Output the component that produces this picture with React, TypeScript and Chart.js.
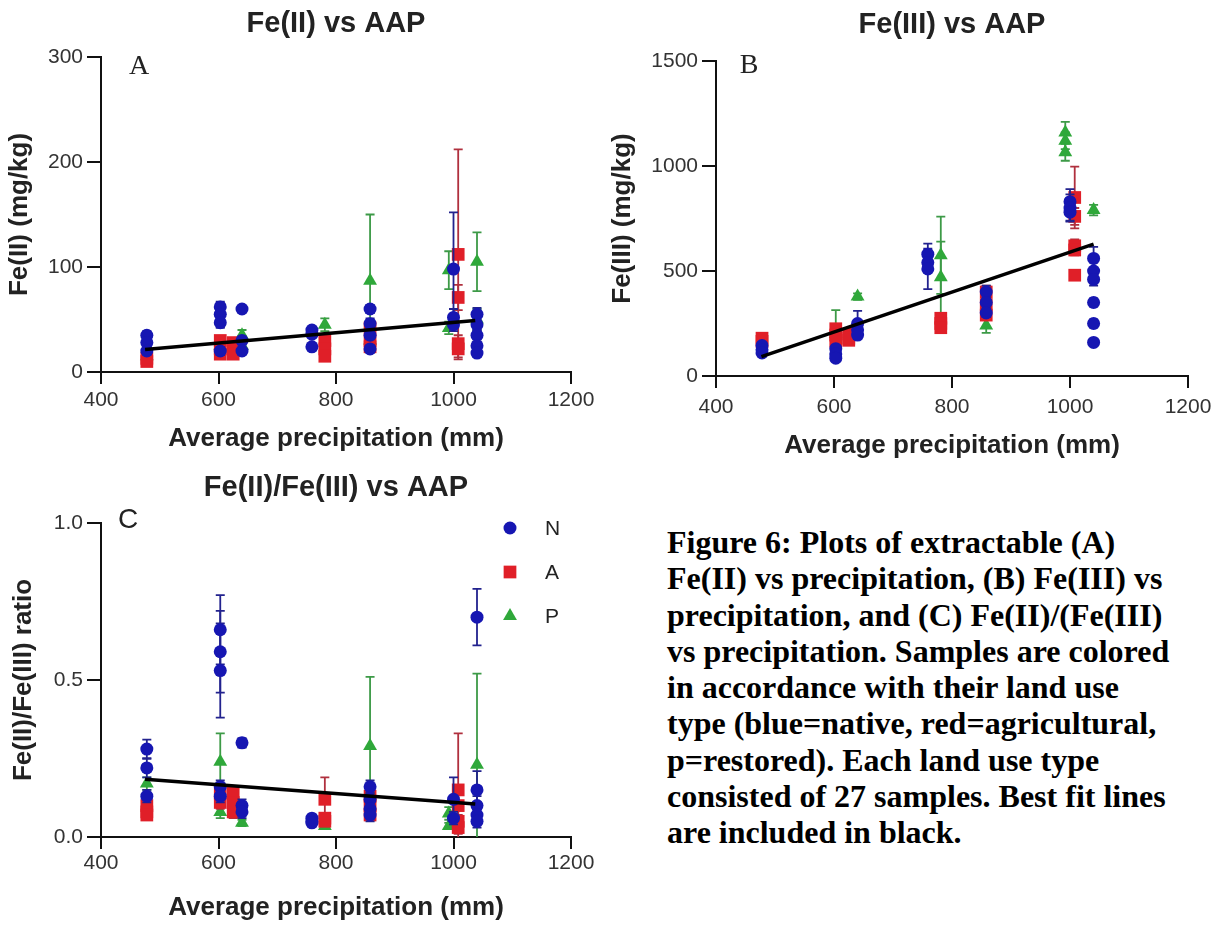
import React, { useEffect, useRef } from "react";
import { Chart, registerables } from "chart.js";

Chart.register(...registerables);
Chart.defaults.font.family = "'Liberation Sans', Arial, sans-serif";

// ---------------- DATA ----------------
// Land use types
const LAND_USE_LABELS = ["N", "A", "P"];

// Panel A: Fe(II) (mg/kg)
const FE2_N_X = [478, 478, 478, 603, 603, 603, 603, 640, 640, 640, 759, 759, 759, 858, 858, 858, 858, 1000, 1000, 1000, 1040, 1040, 1040, 1040, 1040];
const FE2_N_Y = [35, 28, 20, 62, 55, 47, 20, 60, 30, 20, 40, 36, 24, 60, 46, 35, 22, 98, 52, 45, 55, 45, 35, 25, 18];
const FE2_N_ERR = [4, 3, 3, 5, 6, 5, 4, 3, 4, 3, 3, 3, 3, 4, 5, 4, 3, 54, 8, 6, 6, 5, 4, 4, 3];
const FE2_A_X = [478, 478, 603, 603, 603, 625, 625, 625, 781, 781, 781, 858, 858, 858, 1008, 1008, 1008, 1008];
const FE2_A_Y = [13, 10, 30, 22, 17, 28, 22, 17, 30, 22, 15, 42, 30, 24, 112, 71, 27, 22];
const FE2_A_ERR = [2, 2, 3, 3, 2, 3, 3, 2, 3, 3, 2, 4, 4, 3, 100, 12, 8, 8];
const FE2_P_X = [478, 603, 640, 640, 781, 858, 858, 992, 992, 1040, 1040];
const FE2_P_Y = [15, 25, 35, 25, 45, 87, 30, 97, 42, 105, 50];
const FE2_P_ERR = [3, 5, 5, 4, 6, 63, 5, 18, 6, 28, 10];
const FE2_FIT_X = [475, 1037];
const FE2_FIT_Y = [21.5, 49];

// Panel B: Fe(III) (mg/kg)
const FE3_N_X = [478, 478, 478, 603, 603, 603, 640, 640, 640, 759, 759, 759, 858, 858, 858, 1000, 1000, 1000, 1040, 1040, 1040, 1040, 1040, 1040];
const FE3_N_Y = [145, 125, 110, 130, 105, 85, 250, 220, 195, 580, 540, 510, 400, 350, 300, 830, 800, 780, 560, 500, 460, 350, 250, 160];
const FE3_N_ERR = [10, 8, 8, 10, 10, 8, 60, 20, 15, 50, 30, 96, 30, 25, 20, 60, 65, 40, 55, 40, 30, 20, 20, 15];
const FE3_A_X = [478, 478, 603, 603, 603, 625, 625, 625, 781, 781, 781, 858, 858, 858, 1008, 1008, 1008, 1008, 1008];
const FE3_A_Y = [180, 165, 225, 195, 165, 200, 180, 170, 275, 250, 230, 400, 340, 290, 850, 760, 620, 600, 480];
const FE3_A_ERR = [10, 8, 15, 15, 10, 10, 10, 10, 15, 15, 15, 30, 25, 20, 147, 40, 30, 25, 20];
const FE3_P_X = [603, 640, 781, 781, 858, 992, 992, 992, 1040];
const FE3_P_Y = [200, 378, 575, 470, 240, 1160, 1120, 1065, 790];
const FE3_P_ERR = [114, 15, 184, 170, 35, 50, 40, 40, 25];
const FE3_FIT_X = [477, 1040];
const FE3_FIT_Y = [92, 628];

// Panel C: Fe(II)/Fe(III) ratio
const RATIO_N_X = [478, 478, 478, 603, 603, 603, 603, 603, 640, 640, 640, 759, 759, 759, 858, 858, 858, 858, 1000, 1000, 1040, 1040, 1040, 1040, 1040];
const RATIO_N_Y = [0.28, 0.22, 0.13, 0.66, 0.59, 0.53, 0.16, 0.13, 0.3, 0.1, 0.08, 0.06, 0.05, 0.045, 0.16, 0.12, 0.09, 0.07, 0.12, 0.06, 0.7, 0.15, 0.1, 0.07, 0.05];
const RATIO_N_ERR = [0.03, 0.03, 0.02, 0.11, 0.13, 0.15, 0.02, 0.02, 0.015, 0.02, 0.02, 0.01, 0.01, 0.01, 0.02, 0.02, 0.02, 0.02, 0.07, 0.02, 0.09, 0.06, 0.03, 0.02, 0.02];
const RATIO_A_X = [478, 478, 478, 603, 603, 625, 625, 625, 781, 781, 781, 858, 858, 858, 1008, 1008, 1008, 1008];
const RATIO_A_Y = [0.1, 0.08, 0.07, 0.14, 0.11, 0.14, 0.11, 0.08, 0.12, 0.06, 0.05, 0.13, 0.1, 0.07, 0.15, 0.1, 0.05, 0.03];
const RATIO_A_ERR = [0.01, 0.01, 0.01, 0.02, 0.02, 0.02, 0.02, 0.02, 0.07, 0.01, 0.01, 0.02, 0.02, 0.01, 0.18, 0.04, 0.02, 0.02];
const RATIO_P_X = [478, 603, 603, 640, 781, 858, 992, 992, 1040];
const RATIO_P_Y = [0.17, 0.24, 0.08, 0.045, 0.035, 0.29, 0.075, 0.035, 0.23];
const RATIO_P_ERR = [0.02, 0.09, 0.02, 0.01, 0.01, 0.22, 0.02, 0.01, 0.29];
const RATIO_FIT_X = [475, 1037];
const RATIO_FIT_Y = [0.184, 0.105];

const CAPTION_LINES = [
  "Figure 6: Plots of extractable (A)",
  "Fe(II) vs precipitation, (B) Fe(III) vs",
  "precipitation, and (C) Fe(II)/(Fe(III)",
  "vs precipitation. Samples are colored",
  "in accordance with their land use",
  "type (blue=native, red=agricultural,",
  "p=restored). Each land use type",
  "consisted of 27 samples. Best fit lines",
  "are included in black.",
];

// ---------------- STYLE ----------------
const BLUE = "#1616b2";
const RED = "#e01f28";
const GREEN = "#2fa83a";
const BLUE_BAR = "#22228e";
const RED_BAR = "#b0303e";
const GREEN_BAR = "#3d9a47";
const TEXT = "#222";

function drawMarker(ctx: CanvasRenderingContext2D, style: string, x: number, y: number, r: number, color: string) {
  ctx.fillStyle = color;
  ctx.beginPath();
  if (style === "circle") {
    ctx.arc(x, y, r, 0, Math.PI * 2);
  } else if (style === "rect") {
    const s = r / Math.SQRT2;
    ctx.rect(x - s, y - s, 2 * s, 2 * s);
  } else {
    let rad = 0;
    ctx.moveTo(x + Math.sin(rad) * r, y - Math.cos(rad) * r);
    rad += (2 * Math.PI) / 3;
    ctx.lineTo(x + Math.sin(rad) * r, y - Math.cos(rad) * r);
    rad += (2 * Math.PI) / 3;
    ctx.lineTo(x + Math.sin(rad) * r, y - Math.cos(rad) * r);
    ctx.closePath();
  }
  ctx.fill();
}

const errorBarPlugin = {
  id: "errorBars",
  beforeDatasetDraw(chart: any, args: any) {
    const ds = chart.data.datasets[args.index];
    if (!ds.errors) return;
    const ys = chart.scales.y;
    const ctx: CanvasRenderingContext2D = chart.ctx;
    const area = chart.chartArea;
    ctx.save();
    ctx.beginPath();
    ctx.rect(area.left - 20, area.top - 20, area.width + 40, area.height + 20);
    ctx.clip();
    ctx.strokeStyle = ds.errorColor;
    ctx.lineWidth = 1.8;
    args.meta.data.forEach((el: any, i: number) => {
      const e = ds.errors[i];
      if (!e) return;
      const v = ds.data[i].y;
      const yt = ys.getPixelForValue(v + e);
      const low = v - e;
      const yb = ys.getPixelForValue(Math.max(low, ys.min));
      const x = el.x;
      ctx.beginPath();
      ctx.moveTo(x, yt);
      ctx.lineTo(x, yb);
      ctx.moveTo(x - 4.5, yt);
      ctx.lineTo(x + 4.5, yt);
      if (low > ys.min) {
        ctx.moveTo(x - 4.5, yb);
        ctx.lineTo(x + 4.5, yb);
      }
      ctx.stroke();
    });
    ctx.restore();
  },
};

const decorPlugin = {
  id: "decor",
  defaults: {},
  afterDraw(chart: any, _args: any, opts: any) {
    const ctx: CanvasRenderingContext2D = chart.ctx;
    const area = chart.chartArea;
    if (opts && opts.letter) {
      ctx.save();
      ctx.font = opts.letterFont;
      ctx.fillStyle = TEXT;
      ctx.textAlign = "center";
      ctx.textBaseline = "middle";
      ctx.fillText(opts.letter, area.left + opts.letterDx, area.top + opts.letterDy);
      ctx.restore();
    }
    if (opts && opts.legend) {
      let k = 0;
      chart.data.datasets.forEach((ds: any) => {
        if (!LAND_USE_LABELS.includes(ds.label)) return;
        const y = area.top + opts.legendDy + k * opts.legendGap;
        ctx.save();
        drawMarker(ctx, ds.pointStyle, area.left + opts.legendDx, y, ds.legendRadius, ds.backgroundColor);
        ctx.font = "21px 'Liberation Sans', Arial, sans-serif";
        ctx.fillStyle = TEXT;
        ctx.textAlign = "left";
        ctx.textBaseline = "middle";
        ctx.fillText(ds.label, area.left + opts.legendTextDx, y + 1);
        ctx.restore();
        k++;
      });
    }
  },
};

Chart.register(errorBarPlugin as any, decorPlugin as any);

function pts(x: number[], y: number[]) {
  return x.map((v, i) => ({ x: v, y: y[i] }));
}

type Series = { x: number[]; y: number[]; err: number[] };

function makeDatasets(n: Series, a: Series, p: Series, fitX: number[], fitY: number[]) {
  return [
    {
      label: "N", data: pts(n.x, n.y), errors: n.err, errorColor: BLUE_BAR,
      pointStyle: "circle", pointRadius: 6.5, legendRadius: 6.5,
      backgroundColor: BLUE, borderColor: BLUE, borderWidth: 0, order: 1, showLine: false,
    },
    {
      label: "A", data: pts(a.x, a.y), errors: a.err, errorColor: RED_BAR,
      pointStyle: "rect", pointRadius: 9, legendRadius: 9,
      backgroundColor: RED, borderColor: RED, borderWidth: 0, order: 2, showLine: false,
    },
    {
      label: "P", data: pts(p.x, p.y), errors: p.err, errorColor: GREEN_BAR,
      pointStyle: "triangle", pointRadius: 8, legendRadius: 8,
      backgroundColor: GREEN, borderColor: GREEN, borderWidth: 0, order: 3, showLine: false,
    },
    {
      label: "fit", data: pts(fitX, fitY), showLine: true, borderColor: "#000",
      borderWidth: 3.5, pointRadius: 0, order: 0, fill: false,
    },
  ];
}

type PanelSpec = {
  title: string;
  yTitle: string;
  yMax: number;
  yStep: number;
  yDecimals: number;
  datasets: any[];
  titlePad: { top: number; bottom: number };
  yWidth: number;
  yTitlePadTop: number;
  xHeight: number;
  xTickPad: number;
  layoutPad: { left: number; right: number; top: number; bottom: number };
  letter: string;
  letterFont: string;
  letterDx: number;
  letterDy: number;
  legend: boolean;
};

function buildConfig(s: PanelSpec): any {
  return {
    type: "scatter",
    data: { datasets: s.datasets },
    options: {
      responsive: false,
      animation: false,
      devicePixelRatio: 1,
      events: [],
      layout: { padding: s.layoutPad },
      plugins: {
        legend: { display: false },
        tooltip: { enabled: false },
        title: {
          display: true,
          text: s.title,
          fullSize: false,
          color: TEXT,
          font: { size: 29, weight: "bold" },
          padding: s.titlePad,
        },
        decor: {
          letter: s.letter,
          letterFont: s.letterFont,
          letterDx: s.letterDx,
          letterDy: s.letterDy,
          legend: s.legend,
          legendDx: 409,
          legendDy: 5,
          legendGap: 44,
          legendTextDx: 444,
        },
      },
      scales: {
        x: {
          type: "linear",
          min: 400,
          max: 1200,
          ticks: {
            stepSize: 200,
            color: "#333",
            font: { size: 21 },
            padding: s.xTickPad,
            maxRotation: 0,
            callback: (v: any) => String(v),
          },
          grid: { drawOnChartArea: false, drawTicks: true, tickLength: 12, color: "#111", lineWidth: 2 },
          border: { display: true, color: "#111", width: 2 },
          title: {
            display: true,
            text: "Average precipitation (mm)",
            color: TEXT,
            font: { size: 26, weight: "bold" },
            padding: { top: 0, bottom: 0 },
          },
          afterFit: (scale: any) => {
            scale.height = s.xHeight;
          },
        },
        y: {
          type: "linear",
          min: 0,
          max: s.yMax,
          ticks: {
            stepSize: s.yStep,
            color: "#333",
            font: { size: 21 },
            padding: 4,
            callback: (v: any) => Number(v).toFixed(s.yDecimals),
          },
          grid: { drawOnChartArea: false, drawTicks: true, tickLength: 14, color: "#111", lineWidth: 2 },
          border: { display: true, color: "#111", width: 2 },
          title: {
            display: true,
            text: s.yTitle,
            color: TEXT,
            font: { size: 26, weight: "bold" },
            padding: { top: s.yTitlePadTop, bottom: 0 },
          },
          afterFit: (scale: any) => {
            scale.width = s.yWidth;
          },
        },
      },
    },
  };
}

function ChartBox(props: { left: number; top: number; width: number; height: number; spec: PanelSpec }) {
  const ref = useRef<HTMLCanvasElement | null>(null);
  useEffect(() => {
    if (!ref.current) return;
    const chart = new Chart(ref.current, buildConfig(props.spec));
    return () => chart.destroy();
  }, []);
  return (
    <canvas
      ref={ref}
      width={props.width}
      height={props.height}
      style={{ position: "absolute", left: props.left, top: props.top, width: props.width, height: props.height }}
    />
  );
}

const SERIF_LETTER = "28px 'Liberation Serif', 'Times New Roman', serif";
const SANS_LETTER = "28px 'Liberation Sans', Arial, sans-serif";

const specA: PanelSpec = {
  title: "Fe(II) vs AAP",
  yTitle: "Fe(II) (mg/kg)",
  yMax: 300,
  yStep: 100,
  yDecimals: 0,
  datasets: makeDatasets(
    { x: FE2_N_X, y: FE2_N_Y, err: FE2_N_ERR },
    { x: FE2_A_X, y: FE2_A_Y, err: FE2_A_ERR },
    { x: FE2_P_X, y: FE2_P_Y, err: FE2_P_ERR },
    FE2_FIT_X,
    FE2_FIT_Y
  ),
  titlePad: { top: 6.6, bottom: 15.6 },
  yWidth: 101,
  yTitlePadTop: 4.4,
  xHeight: 82,
  xTickPad: 3.4,
  layoutPad: { left: 0, right: 29, top: 0, bottom: 6 },
  letter: "A",
  letterFont: SERIF_LETTER,
  letterDx: 38,
  letterDy: 10,
  legend: false,
};

const specB: PanelSpec = {
  title: "Fe(III) vs AAP",
  yTitle: "Fe(III) (mg/kg)",
  yMax: 1500,
  yStep: 500,
  yDecimals: 0,
  datasets: makeDatasets(
    { x: FE3_N_X, y: FE3_N_Y, err: FE3_N_ERR },
    { x: FE3_A_X, y: FE3_A_Y, err: FE3_A_ERR },
    { x: FE3_P_X, y: FE3_P_Y, err: FE3_P_ERR },
    FE3_FIT_X,
    FE3_FIT_Y
  ),
  titlePad: { top: 7.6, bottom: 18.6 },
  yWidth: 111,
  yTitlePadTop: 2.4,
  xHeight: 85,
  xTickPad: 6.4,
  layoutPad: { left: 0, right: 37, top: 0, bottom: 4 },
  letter: "B",
  letterFont: SERIF_LETTER,
  letterDx: 33,
  letterDy: 5,
  legend: false,
};

const specC: PanelSpec = {
  title: "Fe(II)/Fe(III) vs AAP",
  yTitle: "Fe(II)/Fe(III) ratio",
  yMax: 1,
  yStep: 0.5,
  yDecimals: 1,
  datasets: makeDatasets(
    { x: RATIO_N_X, y: RATIO_N_Y, err: RATIO_N_ERR },
    { x: RATIO_A_X, y: RATIO_A_Y, err: RATIO_A_ERR },
    { x: RATIO_P_X, y: RATIO_P_Y, err: RATIO_P_ERR },
    RATIO_FIT_X,
    RATIO_FIT_Y
  ),
  titlePad: { top: 10.6, bottom: 17.6 },
  yWidth: 101,
  yTitlePadTop: 8.4,
  xHeight: 86,
  xTickPad: 1.4,
  layoutPad: { left: 0, right: 29, top: 0, bottom: 7 },
  letter: "C",
  letterFont: SANS_LETTER,
  letterDx: 27,
  letterDy: -3,
  legend: true,
};

export default function App() {
  return (
    <div
      style={{
        position: "fixed",
        left: 0,
        top: 0,
        width: 1225,
        height: 930,
        background: "#fff",
        overflow: "hidden",
      }}
    >
      <ChartBox left={0} top={0} width={600} height={460} spec={specA} />
      <ChartBox left={605} top={0} width={620} height={465} spec={specB} />
      <ChartBox left={0} top={460} width={600} height={470} spec={specC} />
      <div
        style={{
          position: "absolute",
          left: 667,
          top: 524,
          fontFamily: "'Liberation Serif', 'Times New Roman', serif",
          fontWeight: "bold",
          fontSize: 32,
          lineHeight: "36.25px",
          color: "#000",
          whiteSpace: "nowrap",
        }}
      >
        {CAPTION_LINES.map((line, i) => (
          <div key={i}>{line}</div>
        ))}
      </div>
    </div>
  );
}
